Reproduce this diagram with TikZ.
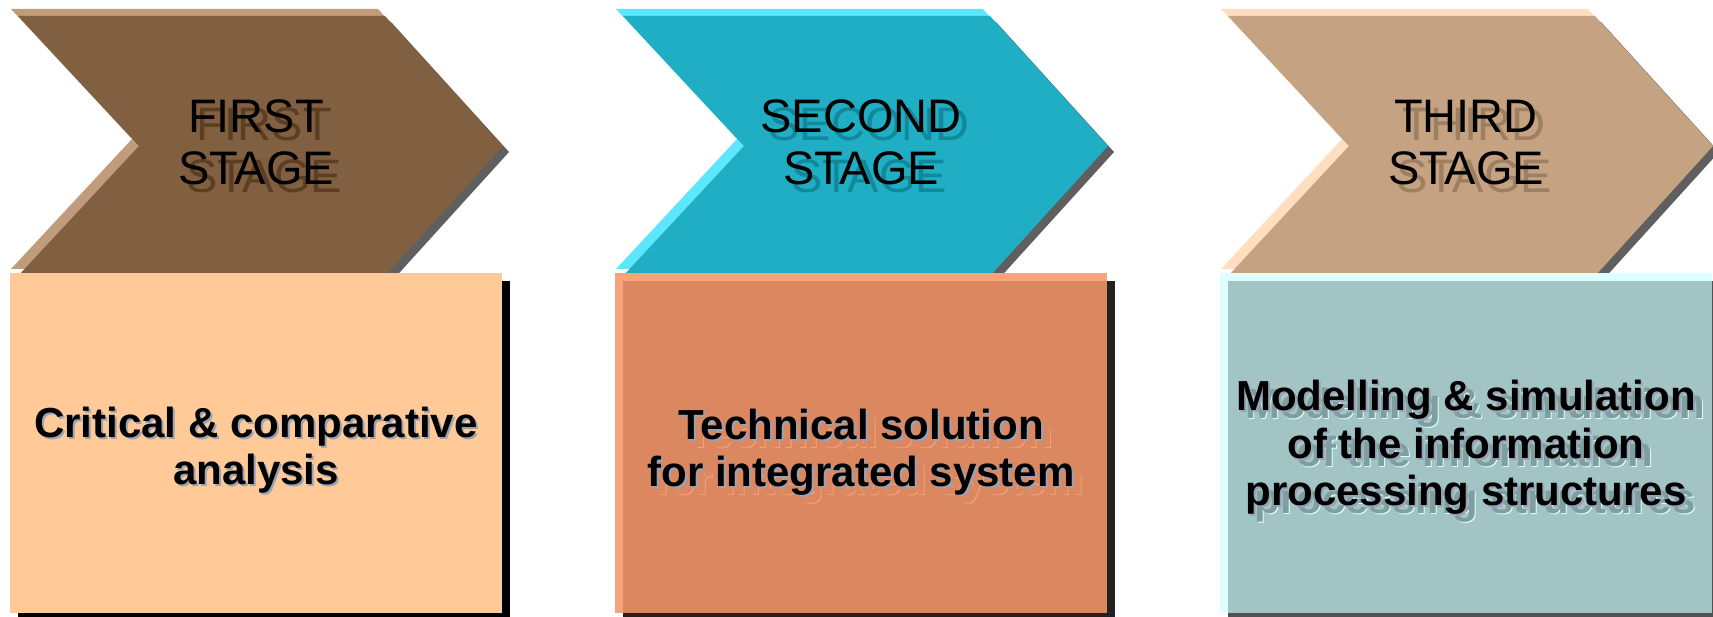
\documentclass[tikz,border=0pt]{standalone}
\usepackage{fontspec}
\setmainfont{Liberation Sans}
\definecolor{brA}{HTML}{806040}
\definecolor{brL}{HTML}{C09C7C}
\definecolor{brS}{HTML}{5C3F22}
\definecolor{peach}{HTML}{FFCA98}
\definecolor{tealA}{HTML}{20AEC5}
\definecolor{tealL}{HTML}{5CE6FF}
\definecolor{tealS}{HTML}{12899B}
\definecolor{salA}{HTML}{DB8760}
\definecolor{salL}{HTML}{F9A37B}
\definecolor{salF}{HTML}{F2A27C}
\definecolor{tanA}{HTML}{C4A282}
\definecolor{tanL}{HTML}{FFDFBF}
\definecolor{tanS}{HTML}{9E7F62}
\definecolor{gryA}{HTML}{A2C4C5}
\definecolor{gryL}{HTML}{DDFFFF}
\definecolor{gryS}{HTML}{7E9E9F}
\definecolor{chsh}{HTML}{5F5F5F}
\definecolor{nearsh}{HTML}{9AA2B4}
\tikzset{
 stg/.style={font=\fontsize{47}{52}\selectfont, inner sep=0pt, anchor=base},
 bx/.style={font=\bfseries\fontsize{42}{47}\selectfont, inner sep=0pt, anchor=base},
}
\newcommand{\chevpath}{(18,16) -- (385,16) -- (503,146) -- (385,276) -- (18,276) -- (139,146) -- cycle}
\newcommand{\stgline}[5]{%
 \node[stg, text=#5] (#1s) at (#2+8,#3+8) {#4};
 \node[stg] (#1) at (#2,#3) {#4};}
\newcommand{\bxnear}[4]{%
 \node[bx, text=nearsh] (#1c) at (#2+2,#3+2) {#4};
 \node[bx] (#1) at (#2,#3) {#4};}
\newcommand{\bxfar}[6]{%
 \node[bx, text=#5] (#1a) at (#2+10,#3+9) {#4};
 \node[bx, text=#6] (#1b) at (#2+9,#3+8) {#4};
 \bxnear{#1}{#2}{#3}{#4}}
\begin{document}
\begin{tikzpicture}[x=1pt,y=-1pt]
\useasboundingbox (0,0) rectangle (1713,617);
% ---------- panel 1
\begin{scope}
 \fill[brL, shift={(-7,-7)}] \chevpath;
 \fill[chsh, shift={(6,6)}] \chevpath;
 \fill[brA] \chevpath;
 \fill[black] (18,281) rectangle (510,625);
 \fill[peach] (10,273) rectangle (502,613);
 \stgline{t1a}{256}{133}{FIRST}{brS}
 \stgline{t1b}{256}{185}{STAGE}{brS}
 \bxnear{b1a}{256}{437}{Critical \& comparative}
 \bxnear{b1b}{256}{484}{analysis}
\end{scope}
% ---------- panel 2
\begin{scope}[xshift=605pt]
 \fill[tealL, shift={(-7,-7)}] \chevpath;
 \fill[chsh, shift={(6,6)}] \chevpath;
 \fill[tealA] \chevpath;
 \fill[black!87] (18,281) rectangle (510,625);
 \fill[salL] (10,273) rectangle (502,613);
 \fill[salA] (18,281) rectangle (502,613);
 \stgline{t2a}{256}{133}{SECOND}{tealS}
 \stgline{t2b}{256}{185}{STAGE}{tealS}
 \bxfar{b2a}{256}{439}{Technical solution}{salF}{salA}
 \bxfar{b2b}{256}{486}{for integrated system}{salF}{salA}
\end{scope}
% ---------- panel 3
\begin{scope}[xshift=1210pt]
 \fill[tanL, shift={(-7,-7)}] \chevpath;
 \fill[chsh, shift={(6,6)}] \chevpath;
 \fill[tanA] \chevpath;
 \fill[black!68] (18,281) rectangle (510,625);
 \fill[gryL] (10,273) rectangle (502,613);
 \fill[gryA] (18,281) rectangle (502,613);
 \stgline{t3a}{256}{133}{THIRD}{tanS}
 \stgline{t3b}{256}{185}{STAGE}{tanS}
 \bxfar{b3a}{256}{410}{Modelling \& simulation}{gryL}{gryS}
 \bxfar{b3b}{256}{458}{of the information}{gryL}{gryS}
 \bxfar{b3c}{256}{505}{processing structures}{gryL}{gryS}
\end{scope}
\end{tikzpicture}
\end{document}
